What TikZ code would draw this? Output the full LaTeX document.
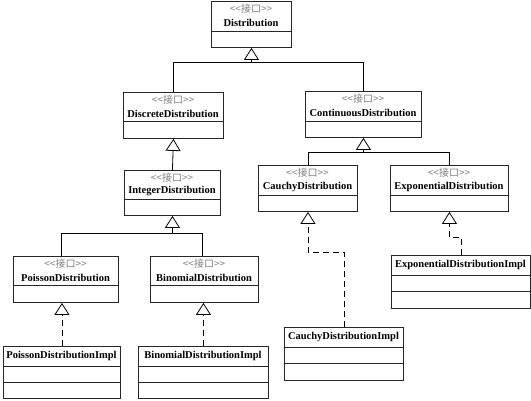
\documentclass[tikz,border=0pt]{standalone}
\usepackage{fontspec}
\setmainfont{Liberation Serif}
\newfontfamily\cjk{Noto Sans CJK SC}
\usetikzlibrary{arrows.meta,calc}
\tikzset{
  boxline/.style={draw=black!85, line width=0.9pt},
  ster/.style={font=\cjk\fontsize{10}{11}\selectfont, text=black!50, inner sep=0pt},
  ttl/.style={font=\bfseries\fontsize{10.5}{12}\selectfont, inner sep=0pt},
  conn/.style={draw=black, line width=0.8pt},
  gen/.style={conn, -{Triangle[open, width=15pt, length=12pt, line width=0.8pt]}},
  impl/.style={gen, dash pattern=on 6pt off 4pt},
}
% interface box: name, x1, y1, x2, y2, separator y, title
\newcommand\ifbox[7]{%
  \node[boxline, minimum width={(#4-#2)*1pt}, minimum height={(#5-#3)*1pt}, anchor=north west, inner sep=0pt] (#1) at (#2,#3) {};
  \draw[boxline] (#2,#6) -- (#4,#6);
  \node[ster] (#1-st) at ({(#2+#4)/2},{#3+8}) {<<接口>>};
  \node[ttl] (#1-t) at ({(#2+#4)/2},{#3+21.5}) {#7};
}
% implementation box: name, x1, y1, x2, y2, sep1, sep2, title
\newcommand\imbox[8]{%
  \node[boxline, minimum width={(#4-#2)*1pt}, minimum height={(#5-#3)*1pt}, anchor=north west, inner sep=0pt] (#1) at (#2,#3) {};
  \draw[boxline] (#2,#6) -- (#4,#6);
  \draw[boxline] (#2,#7) -- (#4,#7);
  \node[ttl] (#1-t) at ({(#2+#4)/2},{(#3+#6)/2}) {#8};
}
\begin{document}
\begin{tikzpicture}[x=1pt, y=-1pt]
\useasboundingbox (0,0) rectangle (531,400);
\fill[white] (0,0) rectangle (531,400);

\ifbox{dist}{211}{1}{291}{47}{31}{Distribution}
\ifbox{disc}{123}{92}{223}{138}{121}{DiscreteDistribution}
\ifbox{cont}{305}{91}{421}{137}{121}{ContinuousDistribution}
\ifbox{int}{124}{170}{220}{215}{199}{IntegerDistribution}
\ifbox{cauchy}{258}{165}{357}{211}{195}{CauchyDistribution}
\ifbox{exp}{390}{165}{508}{211}{195}{ExponentialDistribution}
\ifbox{pois}{13}{256}{118}{302}{285}{PoissonDistribution}
\ifbox{binom}{150}{256}{258}{302}{285}{BinomialDistribution}

\imbox{pimpl}{3}{346}{120}{398}{366}{382}{PoissonDistributionImpl}
\imbox{bimpl}{138}{346}{268}{398}{366}{382}{BinomialDistributionImpl}
\imbox{cimpl}{284}{327}{403}{380}{347}{363}{CauchyDistributionImpl}
\imbox{eimpl}{391}{255}{530}{308}{275}{291}{ExponentialDistributionImpl}

% generalization trees
\coordinate (j0) at ($(dist.south)+(0,14)$);
\draw[conn] (disc.north) |- (j0) -| (cont.north);
\draw[gen] (j0) -- (dist.south);

\draw[gen] (int.north) -- (disc.south);

\coordinate (j1) at ($(cont.south)+(0,14)$);
\draw[conn] (cauchy.north) |- (j1) -| (exp.north);
\draw[gen] (j1) -- (cont.south);

\coordinate (j2) at ($(int.south)+(0,17)$);
\draw[conn] ([xshift=-5pt]pois.north) |- (j2) -| ([xshift=-2pt]binom.north);
\draw[gen] (j2) -- (int.south);

% realizations
\draw[impl] (pimpl.north) -- (pimpl.north |- pois.south);
\draw[impl] (bimpl.north) -- (bimpl.north |- binom.south);
\draw[impl] (cimpl.north) -- ++(0,-75) -| (cauchy.south);
\draw[impl] (eimpl.north) -- ++(0,-18) -| (exp.south);
\end{tikzpicture}
\end{document}
